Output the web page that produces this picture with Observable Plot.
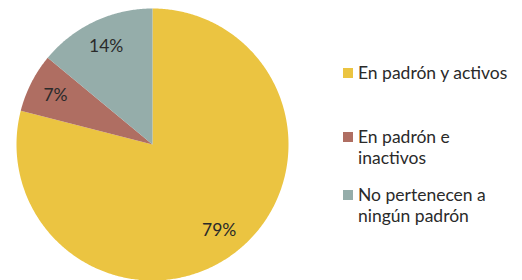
<!DOCTYPE html>
<html>
<head>
<meta charset="utf-8">
<script src="https://cdn.jsdelivr.net/npm/d3@7"></script>
<script src="https://cdn.jsdelivr.net/npm/@observablehq/plot@0.6"></script>
<style>
  html, body { margin: 0; padding: 0; background: #fff; }
  #wrap { position: relative; width: 522px; height: 280px; font-family: Lato, "Open Sans", sans-serif; }
  #chart { position: absolute; left: 0; top: 0; }
  .item { position: absolute; left: 343px; display: flex; align-items: flex-start; }
  .sw { width: 10px; height: 10px; margin-top: 6px; margin-right: 5px; flex: none; }
  .lab { font-size: 17.5px; line-height: 21px; color: #2a2a2a; white-space: pre-line; }
</style>
</head>
<body>
<div id="wrap"><div id="chart"></div></div>
<script>
const categories = ["En padrón y activos", "En padrón e inactivos", "No pertenecen a ningún padrón"];
const legendLabels = ["En padrón y activos", "En padrón e\ninactivos", "No pertenecen a\nningún padrón"];
const values = [79, 7, 14];
const percentLabels = ["79%", "7%", "14%"];
const colors = ["#EBC441", "#AF6E62", "#95ADAA"];

const arcs = d3.pie().sort(null).value(d => d)(values);

// Polygon points for each slice (unit circle, y up, angle clockwise from top)
const polys = [];
arcs.forEach((a, i) => {
  const n = Math.max(8, Math.ceil((a.endAngle - a.startAngle) / 0.01));
  polys.push({cat: categories[i], x: 0, y: 0});
  for (let k = 0; k <= n; k++) {
    const t = a.startAngle + (a.endAngle - a.startAngle) * k / n;
    polys.push({cat: categories[i], x: Math.sin(t), y: Math.cos(t)});
  }
  polys.push({cat: categories[i], x: 0, y: 0});
});

const labels = arcs.map((a, i) => {
  const m = (a.startAngle + a.endAngle) / 2;
  return {text: percentLabels[i], x: 0.8 * Math.sin(m), y: 0.8 * Math.cos(m)};
});

const chart = Plot.plot({
  width: 300,
  height: 280,
  marginLeft: 16,
  marginRight: 12,
  marginTop: 8,
  marginBottom: 0,
  x: {domain: [-1, 1], axis: null},
  y: {domain: [-1, 1], axis: null},
  color: {domain: categories, range: colors},
  style: {fontFamily: "Lato, 'Open Sans', sans-serif", background: "transparent"},
  marks: [
    Plot.line(polys, {x: "x", y: "y", z: "cat", fill: "cat", stroke: "none", curve: "linear"}),
    Plot.text(labels, {x: "x", y: "y", text: "text", fontSize: 17.5, fill: "#2a2a2a"})
  ]
});
document.getElementById("chart").appendChild(chart);

const tops = [62, 126, 184];
const wrap = document.getElementById("wrap");
categories.forEach((c, i) => {
  const it = document.createElement("div");
  it.className = "item";
  it.style.top = tops[i] + "px";
  it.innerHTML = `<div class="sw" style="background:${colors[i]}"></div><div class="lab"></div>`;
  it.querySelector(".lab").textContent = legendLabels[i];
  wrap.appendChild(it);
});
</script>
</body>
</html>
